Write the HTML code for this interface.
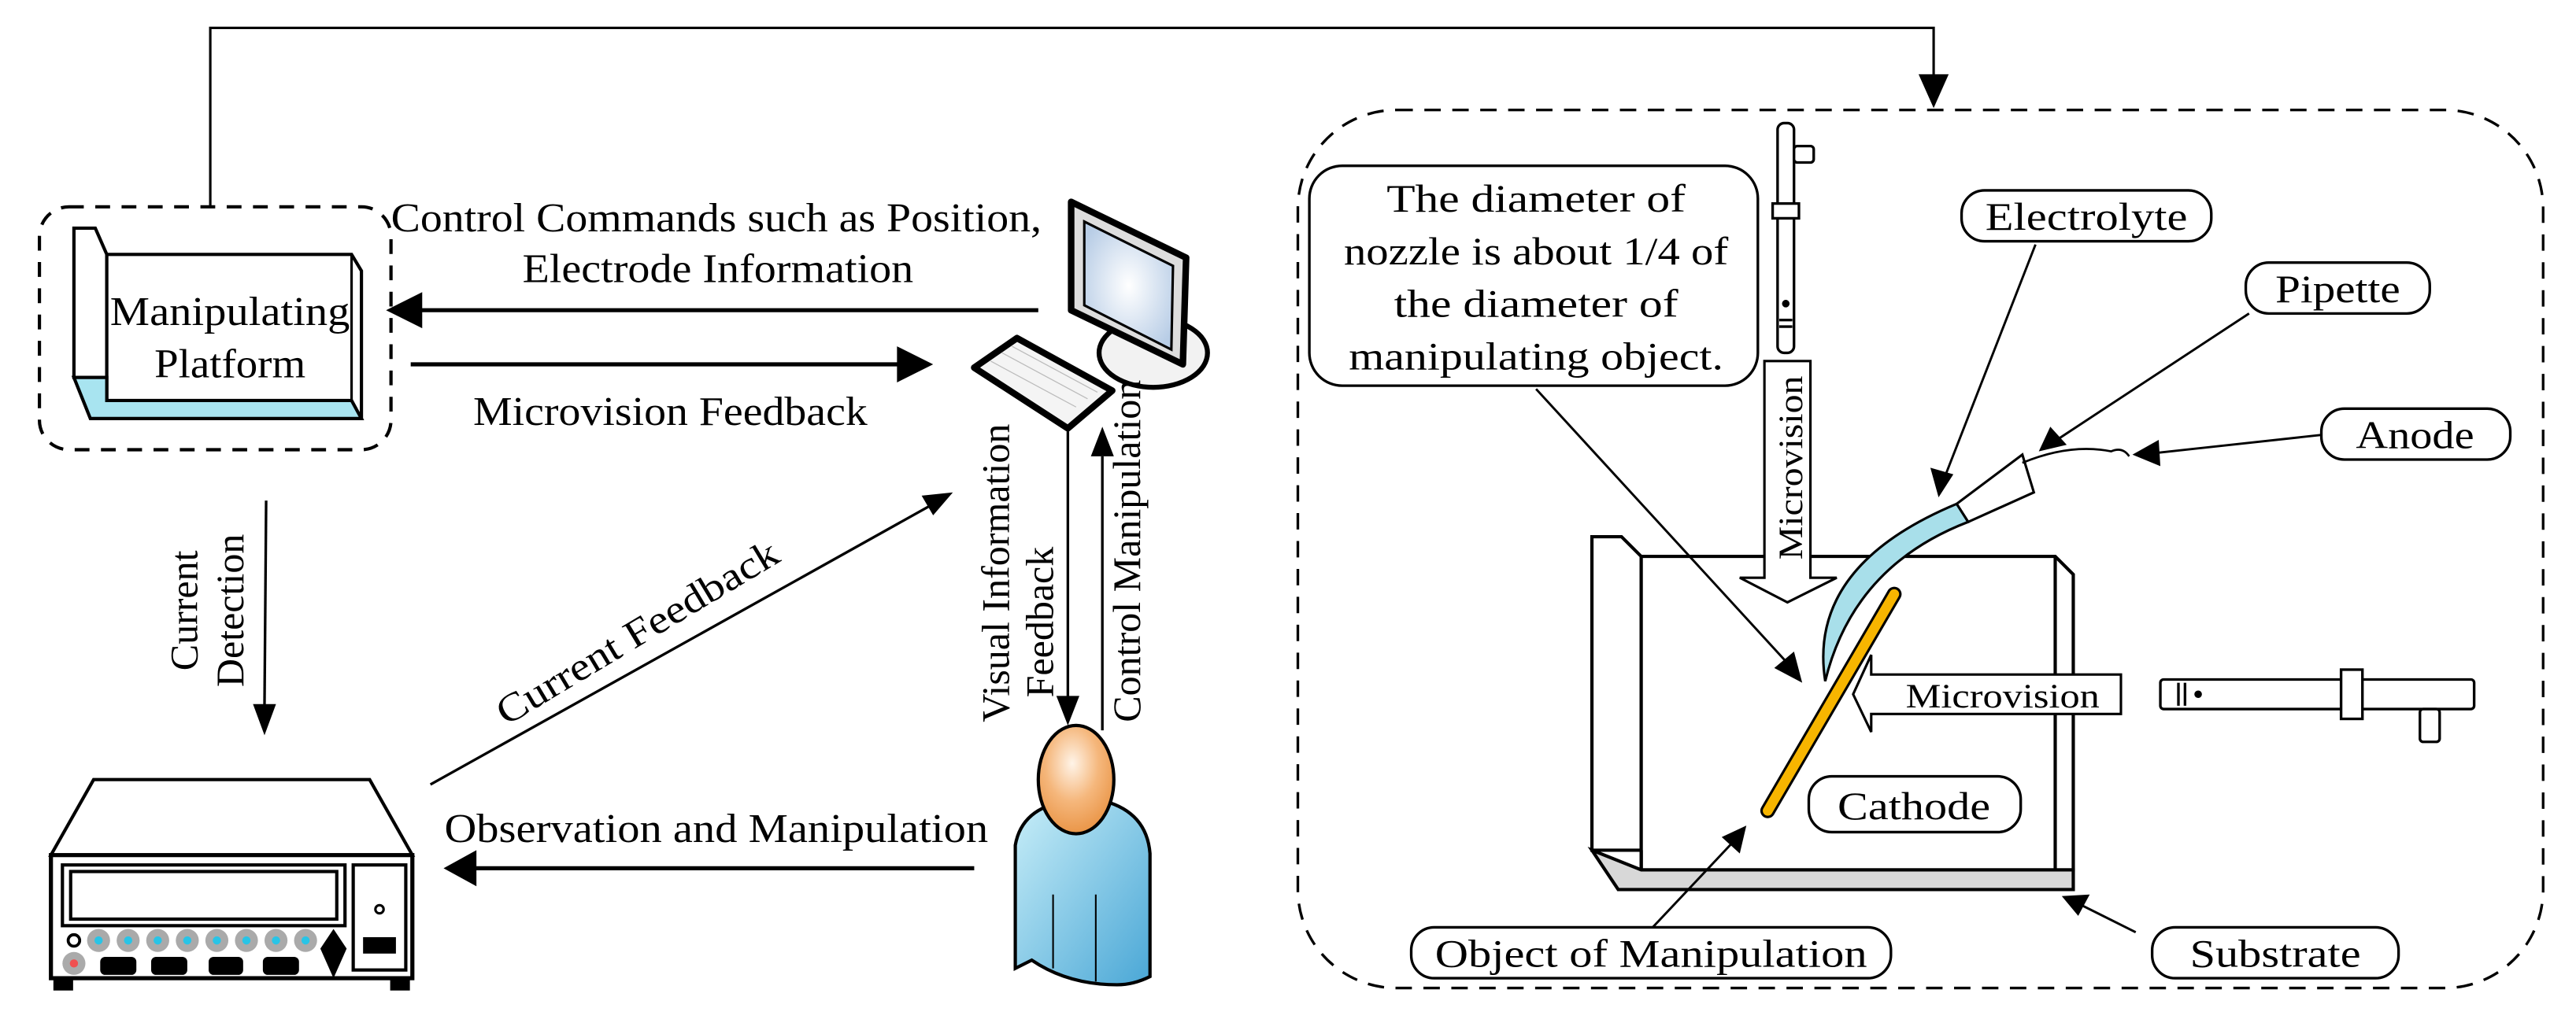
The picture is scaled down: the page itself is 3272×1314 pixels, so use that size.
<!DOCTYPE html>
<html><head><meta charset="utf-8"><style>
html,body{margin:0;padding:0;background:#fff;}
svg{display:block;}
text{font-family:"Liberation Serif",serif;fill:#000;}
</style></head><body>
<svg width="3272" height="1314" viewBox="0 0 1568 630" preserveAspectRatio="none" xmlns="http://www.w3.org/2000/svg">
<defs>
<radialGradient id="scr" cx="0.5" cy="0.5" r="0.6"><stop offset="0" stop-color="#fff"/><stop offset="1" stop-color="#b8cde6"/></radialGradient>
<radialGradient id="head" cx="0.45" cy="0.35" r="0.7"><stop offset="0" stop-color="#fff4e8"/><stop offset="0.5" stop-color="#f5b77c"/><stop offset="1" stop-color="#e8903f"/></radialGradient>
<linearGradient id="body" x1="0" y1="0" x2="1" y2="1"><stop offset="0" stop-color="#c8eef8"/><stop offset="1" stop-color="#4aa7d6"/></linearGradient>
</defs>
<g fill="none" stroke="#000" stroke-width="1.5">
<polyline points="128,126 128,17 1177,17 1177,50"/>
<path d="M1169,46 L1177,64 L1185,46 Z" fill="#000"/>
<rect x="24" y="126" width="214" height="148" rx="18" stroke-width="2" stroke-dasharray="9,7"/>
<rect x="790" y="67" width="758" height="535" rx="60" stroke-width="1.6" stroke-dasharray="10,7"/>
</g>
<!-- platform -->
<g stroke="#000" stroke-width="2" fill="#fff">
<polygon points="45,139 58,139 65,155 65,230 55,230 45,230"/>
<polygon points="65,155 214,155 220,165 220,255 65,255"/>
<polyline points="214,155 214,244 220,255" fill="none" stroke-width="1.5"/>
<polygon points="45,230 65,230 65,244 214,244 220,255 55,255" fill="#a8e4f0"/>
</g>
<text x="140" y="198" font-size="25" text-anchor="middle" textLength="146" lengthAdjust="spacingAndGlyphs">Manipulating</text>
<text x="140" y="230" font-size="25" text-anchor="middle" textLength="92" lengthAdjust="spacingAndGlyphs">Platform</text>
<g stroke="#000" stroke-width="2.5" fill="none">
<line x1="632" y1="189" x2="246" y2="189"/>
<line x1="250" y1="222" x2="556" y2="222"/>
</g>
<path d="M235,189 L257,178 L257,200 Z" fill="#000"/>
<path d="M568,222 L546,211 L546,233 Z" fill="#000"/>
<text x="436" y="141" font-size="25" text-anchor="middle" textLength="396" lengthAdjust="spacingAndGlyphs">Control Commands such as Position,</text>
<text x="437" y="172" font-size="25" text-anchor="middle" textLength="238" lengthAdjust="spacingAndGlyphs">Electrode Information</text>
<text x="408" y="259" font-size="25" text-anchor="middle" textLength="240" lengthAdjust="spacingAndGlyphs">Microvision Feedback</text>
<!-- computer -->
<ellipse cx="702" cy="215" rx="33" ry="21" fill="#f2f2f2" stroke="#000" stroke-width="3"/>
<polygon points="652,123 722,157 720,222 652,189" fill="#ddd" stroke="#000" stroke-width="4" stroke-linejoin="round"/>
<polygon points="660,135 714,162 713,213 660,186" fill="url(#scr)" stroke="#000" stroke-width="1.5"/>
<polygon points="593,224 619,206 677,238 650,261" fill="#f4f4f4" stroke="#000" stroke-width="4" stroke-linejoin="round"/>
<g stroke="#bbb" stroke-width="0.6"><line x1="603" y1="220" x2="655" y2="248"/><line x1="610" y1="215" x2="662" y2="243"/><line x1="616" y1="211" x2="668" y2="239"/></g>
<g stroke="#000" stroke-width="1.6">
<line x1="650" y1="263" x2="650" y2="428"/>
<line x1="671" y1="445" x2="671" y2="278"/>
</g>
<path d="M650,442 L643,424 L657,424 Z" fill="#000"/>
<path d="M671,260 L664,278 L678,278 Z" fill="#000"/>
<text transform="translate(614,440) rotate(-90)" font-size="24">Visual Information</text>
<text transform="translate(641,425) rotate(-90)" font-size="24">Feedback</text>
<text transform="translate(694,440) rotate(-90)" font-size="24">Control Manipulation</text>
<!-- person -->
<path d="M618,590 L618,515 Q622,492 650,488 L672,488 Q698,495 700,520 L700,595 Q690,600 680,600 Q650,600 628,585 Z" fill="url(#body)" stroke="#000" stroke-width="2"/>
<line x1="641" y1="545" x2="641" y2="590" stroke="#000" stroke-width="1"/>
<line x1="667" y1="545" x2="667" y2="598" stroke="#000" stroke-width="1"/>
<ellipse cx="657" cy="489" rx="12" ry="6" fill="#4a90c0"/>
<ellipse cx="655" cy="475" rx="23" ry="33" fill="url(#head)" stroke="#000" stroke-width="2"/>
<!-- current detection -->
<line x1="162" y1="305" x2="161" y2="430" stroke="#000" stroke-width="1.6"/>
<path d="M161,448 L154,429 L168,429 Z" fill="#000"/>
<text transform="translate(120,372) rotate(-90)" font-size="24" text-anchor="middle">Current</text>
<text transform="translate(148,372) rotate(-90)" font-size="24" text-anchor="middle">Detection</text>
<!-- current feedback -->
<line x1="262" y1="478" x2="570" y2="306" stroke="#000" stroke-width="1.6"/>
<path d="M580,300 L561,302 L568,314 Z" fill="#000"/>
<text transform="translate(392,392) rotate(-31)" font-size="24" text-anchor="middle" textLength="196" lengthAdjust="spacingAndGlyphs">Current Feedback</text>
<!-- observation -->
<line x1="593" y1="529" x2="285" y2="529" stroke="#000" stroke-width="2.5"/>
<path d="M270,529 L290,518 L290,540 Z" fill="#000"/>
<text x="436" y="513" font-size="25" text-anchor="middle" textLength="331" lengthAdjust="spacingAndGlyphs">Observation and Manipulation</text>
<!-- instrument -->
<g stroke="#000" fill="#fff">
<polygon points="57,475 225,475 251,521 31,521" stroke-width="2"/>
<rect x="31" y="521" width="220" height="75" stroke-width="2.5"/>
<rect x="33" y="596" width="11" height="7" fill="#000"/>
<rect x="238" y="596" width="11" height="7" fill="#000"/>
<rect x="38" y="527" width="172" height="37" stroke-width="2"/>
<rect x="43" y="531" width="162" height="29" stroke-width="2"/>
<rect x="215" y="527" width="32" height="64" stroke-width="2"/>
<circle cx="231" cy="554" r="2.5" stroke-width="1.5"/>
<rect x="221" y="571" width="20" height="10" fill="#000" stroke="none"/>
<circle cx="45" cy="573" r="3.5" stroke-width="1.8"/>
</g>
<g fill="#aaa">
<circle cx="60" cy="573" r="7"/><circle cx="78" cy="573" r="7"/><circle cx="96" cy="573" r="7"/><circle cx="114" cy="573" r="7"/><circle cx="132" cy="573" r="7"/><circle cx="150" cy="573" r="7"/><circle cx="168" cy="573" r="7"/><circle cx="186" cy="573" r="7"/><circle cx="45" cy="587" r="7"/>
</g>
<g fill="#29c4e6">
<circle cx="60" cy="573" r="2.5"/><circle cx="78" cy="573" r="2.5"/><circle cx="96" cy="573" r="2.5"/><circle cx="114" cy="573" r="2.5"/><circle cx="132" cy="573" r="2.5"/><circle cx="150" cy="573" r="2.5"/><circle cx="168" cy="573" r="2.5"/><circle cx="186" cy="573" r="2.5"/>
</g>
<circle cx="45" cy="587" r="2.5" fill="#f05050"/>
<g fill="#000"><rect x="61" y="583" width="22" height="11" rx="3"/><rect x="92" y="583" width="22" height="11" rx="3"/><rect x="127" y="583" width="21" height="11" rx="3"/><rect x="160" y="583" width="22" height="11" rx="3"/>
<path d="M203,566 L211,578 L203,596 L195,578 Z"/></g>

<!-- RIGHT PANEL -->
<g stroke="#000" stroke-width="1.6" fill="#fff">
<rect x="1082" y="75" width="10" height="140" rx="4"/>
<rect x="1092" y="89" width="12" height="10" rx="2"/>
<rect x="1079" y="124" width="16" height="9"/>
<circle cx="1087" cy="185" r="1.5" fill="#000"/>
<line x1="1083" y1="195" x2="1091" y2="195"/><line x1="1083" y1="199" x2="1091" y2="199"/>
</g>
<g stroke="#000" stroke-width="2" fill="#fff">
<polygon points="969,327 987,327 999,339 999,518 969,518"/>
<polygon points="999,339 1251,339 1262,350 1262,530 999,530"/>
<line x1="1251" y1="339" x2="1251" y2="530"/>
<polygon points="969,518 999,530 1262,530 1262,542 985,542" fill="#d8d8d8"/>
<line x1="999" y1="518" x2="999" y2="530"/>
</g>
<path d="M1074,220 L1102,220 L1102,352 L1118,352 L1088,367 L1059,352 L1074,352 Z" fill="#fff" stroke="#000" stroke-width="1.5"/>
<text transform="translate(1097,285) rotate(-90)" font-size="21" text-anchor="middle" textLength="112" lengthAdjust="spacingAndGlyphs">Microvision</text>
<polygon points="1191,307 1231,277 1238,300 1198,318" fill="#fff" stroke="#000" stroke-width="1.5"/>
<path d="M1231,282 Q1260,270 1285,275 Q1292,272 1296,278" fill="none" stroke="#000" stroke-width="1.3"/>
<path d="M1111,415 Q1100,345 1191,307 L1198,318 Q1128,345 1111,415 Z" fill="#a8dfea" stroke="#000" stroke-width="1.5"/>
<line x1="1153" y1="362" x2="1076" y2="494" stroke="#000" stroke-width="9" stroke-linecap="round"/>
<line x1="1153" y1="362" x2="1076" y2="494" stroke="#f7b500" stroke-width="6" stroke-linecap="round"/>
<path d="M1291,411 L1139,411 L1139,399 L1128,423 L1139,446 L1139,435 L1291,435 Z" fill="#fff" stroke="#000" stroke-width="1.5"/>
<text x="1219" y="431" font-size="21" text-anchor="middle" textLength="118" lengthAdjust="spacingAndGlyphs">Microvision</text>
<g stroke="#000" stroke-width="1.6" fill="#fff">
<rect x="1315" y="414" width="191" height="18" rx="2"/>
<rect x="1425" y="408" width="13" height="30"/>
<rect x="1473" y="432" width="12" height="20" rx="2"/>
<circle cx="1338" cy="423" r="1.5" fill="#000"/>
<line x1="1326" y1="416" x2="1326" y2="430"/><line x1="1330" y1="416" x2="1330" y2="430"/>
</g>
<g stroke="#000" stroke-width="1.6" fill="#fff">
<rect x="797" y="101" width="273" height="134" rx="20"/>
<rect x="1194" y="116" width="152" height="31" rx="14"/>
<rect x="1367" y="160" width="112" height="31" rx="14"/>
<rect x="1413" y="249" width="115" height="31" rx="14"/>
<rect x="1101" y="473" width="129" height="34" rx="14"/>
<rect x="859" y="565" width="292" height="31" rx="14"/>
<rect x="1310" y="565" width="150" height="31" rx="14"/>
</g>
<g font-size="24" text-anchor="middle" lengthAdjust="spacingAndGlyphs">
<text x="935" y="129" textLength="182" lengthAdjust="spacingAndGlyphs">The diameter of</text>
<text x="935" y="161" textLength="234" lengthAdjust="spacingAndGlyphs">nozzle is about 1/4 of</text>
<text x="935" y="193" textLength="173" lengthAdjust="spacingAndGlyphs">the diameter of</text>
<text x="935" y="225" textLength="228" lengthAdjust="spacingAndGlyphs">manipulating object.</text>
<text x="1270" y="140" textLength="123" lengthAdjust="spacingAndGlyphs">Electrolyte</text>
<text x="1423" y="184" textLength="76" lengthAdjust="spacingAndGlyphs">Pipette</text>
<text x="1470" y="273" textLength="72" lengthAdjust="spacingAndGlyphs">Anode</text>
<text x="1165" y="499" textLength="93" lengthAdjust="spacingAndGlyphs">Cathode</text>
<text x="1005" y="589" textLength="263" lengthAdjust="spacingAndGlyphs">Object of Manipulation</text>
<text x="1385" y="589" textLength="104" lengthAdjust="spacingAndGlyphs">Substrate</text>
</g>
<g stroke="#000" stroke-width="1.4">
<line x1="1239" y1="149" x2="1184" y2="290"/>
<line x1="1369" y1="191" x2="1252" y2="268"/>
<line x1="1413" y1="265" x2="1312" y2="276"/>
<line x1="935" y1="237" x2="1088" y2="404"/>
<line x1="1006" y1="565" x2="1054" y2="514"/>
<line x1="1300" y1="568" x2="1268" y2="552"/>
</g>
<g fill="#000">
<path d="M1180,303 L1175,285 L1189,289 Z"/>
<path d="M1241,275 L1248,260 L1258,271 Z"/>
<path d="M1298,277 L1314,268 L1315,284 Z"/>
<path d="M1097,416 L1080,407 L1092,397 Z"/>
<path d="M1063,503 L1059,520 L1048,510 Z"/>
<path d="M1255,546 L1272,545 L1265,558 Z"/>
</g>
</svg>
</body></html>
